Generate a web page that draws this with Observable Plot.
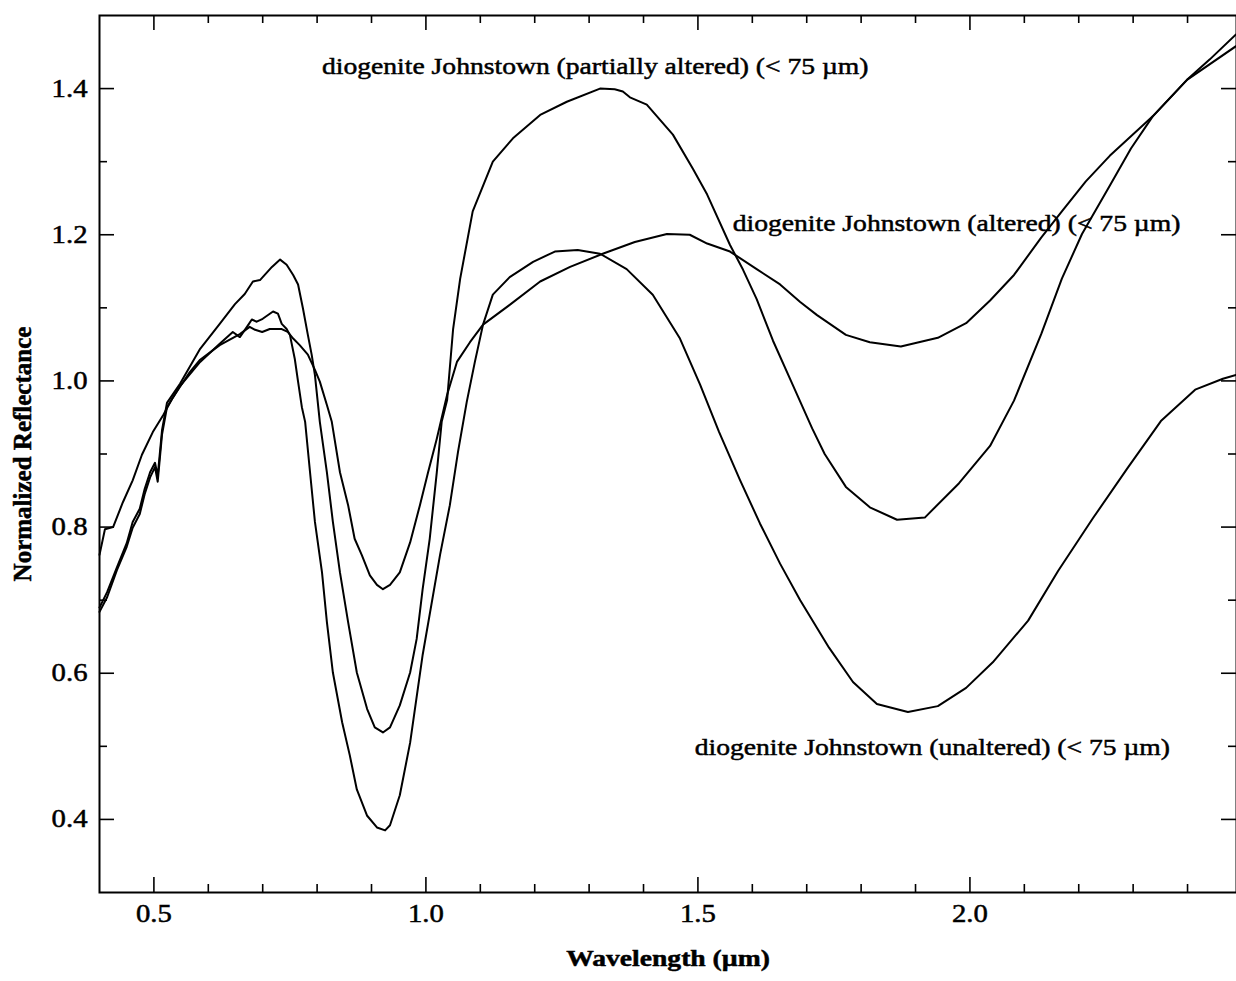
<!DOCTYPE html>
<html><head><meta charset="utf-8">
<script src="https://cdn.jsdelivr.net/npm/d3@7"></script>
<script src="https://cdn.jsdelivr.net/npm/@observablehq/plot@0.6"></script>
<style>body{margin:0;background:#fff;}</style>
</head><body><div id="chart"></div>
<script>
// Spectra (wavelength in µm, normalized reflectance)
const alteredX = [0.400,0.410,0.425,0.443,0.461,0.478,0.498,0.517,0.533,0.548,0.566,0.585,0.621,0.658,0.676,0.686,0.699,0.713,0.735,0.746,0.756,0.768,0.783,0.796,0.805,0.818,0.827,0.842,0.857,0.869,0.882,0.897,0.910,0.921,0.934,0.952,0.971,0.989,1.004,1.020,1.039,1.057,1.081,1.105,1.154,1.210,1.265,1.325,1.384,1.443,1.485,1.517,1.559,1.608,1.651,1.688,1.719,1.772,1.816,1.873,1.941,1.993,2.037,2.081,2.131,2.169,2.213,2.257,2.336,2.399,2.489];
const alteredY = [0.762,0.797,0.800,0.834,0.864,0.899,0.930,0.953,0.975,0.992,1.012,1.029,1.049,1.064,1.074,1.070,1.067,1.071,1.071,1.067,1.058,1.049,1.036,1.015,0.999,0.967,0.944,0.875,0.830,0.784,0.762,0.734,0.721,0.715,0.721,0.738,0.779,0.830,0.875,0.921,0.981,1.026,1.053,1.077,1.104,1.136,1.156,1.174,1.190,1.201,1.200,1.188,1.177,1.153,1.132,1.108,1.090,1.063,1.053,1.047,1.059,1.079,1.110,1.145,1.196,1.232,1.273,1.308,1.362,1.412,1.458];

const partialX = [0.400,0.414,0.432,0.450,0.461,0.474,0.483,0.493,0.502,0.507,0.515,0.524,0.548,0.585,0.621,0.649,0.667,0.682,0.695,0.717,0.732,0.744,0.756,0.765,0.774,0.783,0.790,0.796,0.805,0.818,0.829,0.842,0.857,0.873,0.892,0.906,0.921,0.934,0.952,0.971,0.983,0.994,1.007,1.020,1.029,1.039,1.050,1.063,1.086,1.123,1.160,1.210,1.259,1.320,1.347,1.362,1.375,1.406,1.454,1.491,1.517,1.559,1.583,1.608,1.638,1.671,1.710,1.733,1.772,1.816,1.866,1.917,1.980,2.037,2.081,2.131,2.169,2.206,2.257,2.296,2.336,2.399,2.441,2.489];
const partialY = [0.690,0.711,0.745,0.778,0.807,0.825,0.852,0.875,0.888,0.870,0.933,0.970,0.996,1.044,1.078,1.105,1.119,1.136,1.138,1.156,1.166,1.159,1.145,1.132,1.099,1.063,1.036,1.008,0.944,0.875,0.807,0.738,0.670,0.601,0.551,0.526,0.519,0.526,0.556,0.601,0.647,0.715,0.784,0.875,0.944,0.974,1.071,1.140,1.232,1.300,1.332,1.364,1.382,1.400,1.399,1.396,1.388,1.378,1.337,1.290,1.255,1.186,1.152,1.112,1.055,1.000,0.935,0.900,0.855,0.827,0.810,0.813,0.860,0.911,0.973,1.064,1.140,1.201,1.267,1.318,1.362,1.412,1.440,1.474];

const unalteredX = [0.400,0.414,0.432,0.450,0.461,0.474,0.483,0.493,0.502,0.507,0.515,0.524,0.548,0.585,0.621,0.645,0.658,0.671,0.680,0.689,0.700,0.719,0.728,0.735,0.744,0.750,0.759,0.765,0.772,0.778,0.787,0.796,0.809,0.818,0.829,0.846,0.860,0.873,0.892,0.910,0.925,0.934,0.952,0.971,0.994,1.026,1.044,1.059,1.075,1.090,1.105,1.123,1.154,1.197,1.237,1.279,1.320,1.369,1.417,1.467,1.504,1.539,1.577,1.614,1.651,1.688,1.741,1.785,1.829,1.886,1.941,1.993,2.042,2.107,2.162,2.226,2.289,2.351,2.414,2.465,2.489];
const unalteredY = [0.684,0.704,0.741,0.773,0.799,0.818,0.845,0.868,0.882,0.862,0.927,0.964,0.993,1.026,1.051,1.067,1.060,1.074,1.084,1.081,1.085,1.095,1.092,1.078,1.071,1.063,1.030,0.999,0.964,0.944,0.875,0.807,0.738,0.670,0.601,0.533,0.488,0.441,0.405,0.389,0.385,0.392,0.433,0.505,0.625,0.762,0.830,0.903,0.971,1.026,1.077,1.118,1.142,1.163,1.177,1.179,1.174,1.153,1.118,1.058,0.995,0.930,0.865,0.805,0.750,0.700,0.635,0.588,0.558,0.547,0.555,0.580,0.615,0.672,0.740,0.812,0.880,0.945,0.988,1.003,1.008];

// Curve labels and their anchor (left end of text, in data units)
const labelTexts = ["diogenite Johnstown (partially altered) (< 75 µm)", "diogenite Johnstown (altered) (< 75 µm)", "diogenite Johnstown (unaltered) (< 75 µm)"];
const labelX = [0.809, 1.564, 1.494];
const labelY = [1.430, 1.215, 0.499];

// Ticks
const xMajor = [0.5, 1.0, 1.5, 2.0];
const xMinor = [0.6, 0.7, 0.8, 0.9, 1.1, 1.2, 1.3, 1.4, 1.6, 1.7, 1.8, 1.9, 2.1, 2.2, 2.3, 2.4];
const yMajor = [0.4, 0.6, 0.8, 1.0, 1.2, 1.4];
const yMinor = [0.5, 0.7, 0.9, 1.1, 1.3];
const xTitle = "Wavelength (µm)";
const yTitle = "Normalized Reflectance";

const series = [
  {name: "altered", x: alteredX, y: alteredY},
  {name: "partially altered", x: partialX, y: partialY},
  {name: "unaltered", x: unalteredX, y: unalteredY}
];
const rows = series.flatMap(s => s.x.map((x, i) => ({sample: s.name, wavelength: x, reflectance: s.y[i]})));
const labels = labelTexts.map((t, i) => ({text: t, x: labelX[i], y: labelY[i]}));

const W = 1236, H = 981, mL = 99, mR = 0, mT = 15, mB = 89;
const innerW = W - mL - mR, innerH = H - mT - mB;
const MAJ = 15, MIN = 8;
const tk = {stroke: "black", strokeWidth: 1.6};

const chart = Plot.plot({
  width: W, height: H,
  marginLeft: mL, marginRight: mR, marginTop: mT, marginBottom: mB,
  style: {fontFamily: "'Liberation Serif', 'Times New Roman', serif", fontSize: "24px", color: "black", background: "white"},
  x: {domain: [0.4, 2.49]},
  y: {domain: [0.3, 1.5]},
  marks: [
    Plot.ruleX(xMinor, {...tk, insetTop: innerH - MIN}),
    Plot.ruleX(xMinor, {...tk, insetBottom: innerH - MIN}),
    Plot.ruleX(xMajor, {...tk, insetTop: innerH - MAJ}),
    Plot.ruleX(xMajor, {...tk, insetBottom: innerH - MAJ}),
    Plot.ruleY(yMinor, {...tk, insetRight: innerW - MIN}),
    Plot.ruleY(yMinor, {...tk, insetLeft: innerW - MIN}),
    Plot.ruleY(yMajor, {...tk, insetRight: innerW - MAJ}),
    Plot.ruleY(yMajor, {...tk, insetLeft: innerW - MAJ}),
    Plot.axisX(xMajor, {anchor: "bottom", tickSize: 0, tickPadding: 12, fontSize: 25, tickFormat: d => d.toFixed(1), label: null}),
    Plot.axisY(yMajor, {anchor: "left", tickSize: 0, tickPadding: 12, fontSize: 25, tickFormat: d => d.toFixed(1), label: null}),
    Plot.frame({stroke: "black", strokeWidth: 2}),
    Plot.line(rows, {x: "wavelength", y: "reflectance", z: "sample", stroke: "black", strokeWidth: 2}),
    Plot.text(labels, {x: "x", y: "y", text: "text", textAnchor: "start", fontSize: 24}),
    Plot.text([xTitle], {frameAnchor: "bottom", dy: 73, fontWeight: "bold", fontSize: 24}),
    Plot.text([yTitle], {frameAnchor: "left", textAnchor: "middle", dx: -77, rotate: -90, fontWeight: "bold", fontSize: 25})
  ]
});
document.getElementById("chart").append(chart);

// horizontal stretch and heavier ink, like the scanned type
d3.select(chart).selectAll("text").each(function() {
  this.style.stroke = "black";
  this.style.strokeWidth = "0.5px";
  const tr = this.getAttribute("transform") || "";
  if (tr.includes("rotate")) return;
  const len = this.getComputedTextLength();
  if (len > 0) {
    this.setAttribute("textLength", (len * 1.15).toFixed(1));
    this.setAttribute("lengthAdjust", "spacingAndGlyphs");
  }
});
</script>
</body></html>
